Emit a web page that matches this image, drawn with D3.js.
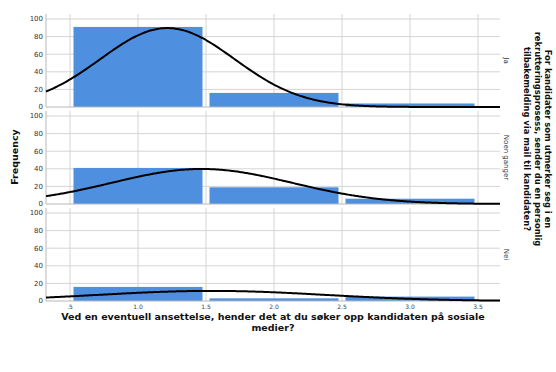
<!DOCTYPE html>
<html>
<head>
<meta charset="utf-8">
<script src="https://cdn.jsdelivr.net/npm/d3@7"></script>
<style>
  html, body { margin: 0; padding: 0; background: #fff; }
  svg { display: block; font-family: "DejaVu Sans", sans-serif; }
</style>
</head>
<body>
<svg id="chart" width="556" height="372"></svg>
<script>
// Response categories of the panel question (one panel each)
const panels = ["Ja", "Noen ganger", "Nei"];
// Bin centres of the x variable (1 = first answer, 2, 3)
const binCenters = [1, 2, 3];
// Counts per bin for each panel
const countsJa = [91, 16, 4];
const countsNoen = [41, 19, 6];
const countsNei = [16, 3, 5];
const seriesCounts = [countsJa, countsNoen, countsNei];
const xTicks = [0.5, 1.0, 1.5, 2.0, 2.5, 3.0, 3.5];
const yTicks = [0, 20, 40, 60, 80, 100];

const xTitle = ["Ved en eventuell ansettelse, hender det at du søker opp kandidaten på sosiale", "medier?"];
const panelTitle = ["For kandidater som utmerker seg i en", "rekrutteringsprosess, sender du en personlig", "tilbakemelding via mail til kandidaten?"];

const svg = d3.select("#chart");
const plotLeft = 46, plotRight = 500;
const panelTop0 = 14, panelH = 93, panelGap = 4, yPad = 5;

const x = d3.scaleLinear().domain([0.5, 3.5]).range([70, 478]);
const xMin = x.invert(plotLeft), xMax = x.invert(plotRight);

const barColor = "#4f8fe0";
const gridColor = "#d4d4d4";

panels.forEach((name, i) => {
  const counts = seriesCounts[i];
  const top = panelTop0 + i * (panelH + panelGap);
  const bottom = top + panelH;
  const y = d3.scaleLinear().domain([0, 100]).range([bottom, top + yPad]);
  const g = svg.append("g");

  // grid
  g.selectAll(".hg").data(yTicks.filter(t => t > 0)).join("line")
    .attr("x1", plotLeft).attr("x2", plotRight)
    .attr("y1", d => y(d)).attr("y2", d => y(d))
    .attr("stroke", gridColor).attr("stroke-width", 1);
  g.selectAll(".vg").data(xTicks).join("line")
    .attr("x1", d => x(d)).attr("x2", d => x(d))
    .attr("y1", top).attr("y2", bottom)
    .attr("stroke", gridColor).attr("stroke-width", 1);

  // bars
  g.selectAll("rect").data(counts).join("rect")
    .attr("x", (d, j) => x(binCenters[j] - 0.5) + 3.5)
    .attr("width", (d, j) => x(binCenters[j] + 0.5) - x(binCenters[j] - 0.5) - 7)
    .attr("y", d => y(d))
    .attr("height", d => y(0) - y(d))
    .attr("fill", barColor);

  // axes
  g.append("line").attr("x1", plotLeft).attr("x2", plotLeft)
    .attr("y1", top).attr("y2", bottom).attr("stroke", "#b8b8b8");
  g.append("line").attr("x1", plotLeft).attr("x2", plotRight)
    .attr("y1", bottom).attr("y2", bottom).attr("stroke", "#b8b8b8");

  // y tick labels
  g.selectAll(".yt").data(yTicks).join("text")
    .attr("x", plotLeft - 3).attr("y", d => y(d))
    .attr("dy", "0.35em").attr("text-anchor", "end")
    .attr("font-size", 7).attr("fill", "#333")
    .text(d => d);

  // fitted normal curve from the bin counts
  const n = d3.sum(counts);
  const mean = d3.sum(counts, (c, j) => c * binCenters[j]) / n;
  const variance = d3.sum(counts, (c, j) => c * (binCenters[j] - mean) ** 2) / (n - 1);
  const sd = Math.sqrt(variance);
  const density = v => n / (sd * Math.sqrt(2 * Math.PI)) * Math.exp(-0.5 * ((v - mean) / sd) ** 2);
  const pts = d3.range(0, 201).map(k => xMin + (xMax - xMin) * k / 200);
  g.append("path")
    .datum(pts)
    .attr("d", d3.line().x(v => x(v)).y(v => y(density(v))).curve(d3.curveBasis))
    .attr("fill", "none").attr("stroke", "#000").attr("stroke-width", 2);

  // strip label
  g.append("text")
    .attr("transform", `translate(506,${(top + bottom) / 2}) rotate(90)`)
    .attr("text-anchor", "middle").attr("dy", "0.35em")
    .attr("font-size", 7).attr("fill", "#333")
    .text(name);
});

// x tick labels
svg.selectAll(".xt").data(xTicks).join("text")
  .attr("x", d => x(d)).attr("y", 308.5)
  .attr("text-anchor", "middle").attr("font-size", 6).attr("fill", "#444")
  .text(d => d === 0.5 ? ".5" : d.toFixed(1));

// x axis title
svg.selectAll(".xtitle").data(xTitle).join("text")
  .attr("x", 273).attr("y", (d, i) => 320 + i * 10.5)
  .attr("text-anchor", "middle").attr("font-size", 9.5).attr("font-weight", "bold")
  .attr("fill", "#111")
  .text(d => d);

// y axis title
svg.append("text")
  .attr("transform", "translate(15,157) rotate(-90)")
  .attr("text-anchor", "middle").attr("dy", "0.35em")
  .attr("font-size", 9.5).attr("font-weight", "bold").attr("fill", "#111")
  .text("Frequency");

// panel variable title on the right
svg.selectAll(".ptitle").data(panelTitle).join("text")
  .attr("transform", (d, i) => `translate(${548 - i * 10.5},139) rotate(90)`)
  .attr("text-anchor", "middle").attr("dy", "0.35em")
  .attr("font-size", 8.4).attr("font-weight", "bold").attr("fill", "#111")
  .text(d => d);
</script>
</body>
</html>
